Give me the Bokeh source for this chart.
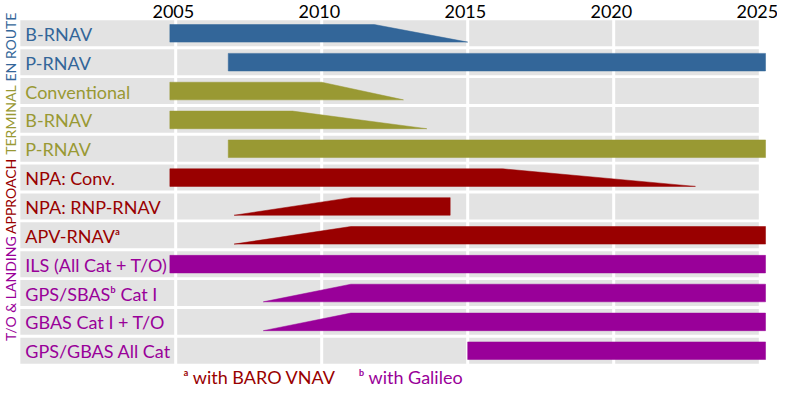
from bokeh.plotting import figure
from bokeh.models import Range1d
from bokeh.core.properties import value
from bokeh.embed import file_html
from bokeh.resources import INLINE

# ---------------- data ----------------
labels = ["B-RNAV", "P-RNAV", "Conventional", "B-RNAV", "P-RNAV",
          "NPA: Conv.", "NPA: RNP-RNAV", "APV-RNAV\u1d43",
          "ILS (All Cat + T/O)", "GPS/SBAS\u1d47 Cat I", "GBAS Cat I + T/O", "GPS/GBAS All Cat"]
groups = ["EN ROUTE", "EN ROUTE", "TERMINAL", "TERMINAL", "TERMINAL",
          "APPROACH", "APPROACH", "APPROACH",
          "T/O & LANDING", "T/O & LANDING", "T/O & LANDING", "T/O & LANDING"]
# bottom edge from start to end, top edge from full_start to full_end (years)
start      = [2004.8, 2006.8, 2004.8, 2004.8, 2006.8, 2004.8, 2007.0, 2007.0, 2004.8, 2008.0, 2008.0, 2015.0]
full_start = [2004.8, 2006.8, 2004.8, 2004.8, 2006.8, 2004.8, 2011.0, 2011.0, 2004.8, 2011.0, 2011.0, 2015.0]
full_end   = [2011.8, 2025.2, 2010.0, 2009.0, 2025.2, 2016.2, 2014.4, 2025.2, 2025.2, 2025.2, 2025.2, 2025.2]
end        = [2015.0, 2025.2, 2012.8, 2013.6, 2025.2, 2022.8, 2014.4, 2025.2, 2025.2, 2025.2, 2025.2, 2025.2]

group_names = ["EN ROUTE", "TERMINAL", "APPROACH", "T/O & LANDING"]
group_colors = ["#336699", "#999933", "#990000", "#990099"]

years = [2005, 2010, 2015, 2020, 2025]
footnotes = ["\u1d43 with BARO VNAV", "\u1d47 with Galileo"]
footnote_colors = ["#990000", "#990099"]

# ---------------- figure ----------------
FONT = "Lato"
p = figure(width=777, height=388, output_backend="svg", toolbar_location=None,
           x_range=Range1d(1999.0, 2025.61), y_range=Range1d(12.309, -1.1375),
           min_border=0)
p.axis.visible = False
p.grid.visible = False
p.outline_line_color = None
p.background_fill_color = "white"
p.border_fill_color = "white"

n = len(labels)
rows = list(range(n))
cmap = dict(zip(group_names, group_colors))
colors = [cmap[g] for g in groups]

# row backgrounds
p.quad(left=[1999.68] * n, right=[2024.97] * n,
       top=[r - 0.45 for r in rows], bottom=[r + 0.45 for r in rows],
       fill_color="#e3e3e3", line_color=None)

# white year separators (drawn as glyphs, under the bars)
sep = years[:-1]
p.segment(x0=sep, x1=sep, y0=[-0.6] * len(sep), y1=[11.6] * len(sep),
          line_color="white", line_width=3)

# bars
h = 0.305
xs = [[s, fs, fe, e] for s, fs, fe, e in zip(start, full_start, full_end, end)]
ys = [[r + h, r - h, r - h, r + h] for r in rows]
p.patches(xs=xs, ys=ys, fill_color=colors, line_color=colors, line_width=0.5)

# row labels
p.text(x=[1999.85] * n, y=[r + 0.02 for r in rows], text=labels, text_color=colors,
       text_font=value(FONT), text_font_size="18px",
       text_align="left", text_baseline="middle")

# group labels (vertical)
gy = [0.475, 3.005, 5.65, 8.85]
p.text(x=[1999.33] * 4, y=gy, text=group_names, text_color=group_colors,
       angle=1.5708, text_font=value(FONT), text_font_size="14px",
       text_align="center", text_baseline="middle")

# year labels
p.text(x=[y - 0.08 for y in years], y=[-0.74] * len(years), text=[str(y) for y in years],
       text_color="black", text_font=value(FONT), text_font_size="18px",
       text_align="center", text_baseline="middle")

# footnotes
p.text(x=[2005.27, 2011.27], y=[11.9, 11.9], text=footnotes, text_color=footnote_colors,
       text_font=value(FONT), text_font_size="18px",
       text_align="left", text_baseline="middle")

open("out.html", "w").write(file_html(p, INLINE))
